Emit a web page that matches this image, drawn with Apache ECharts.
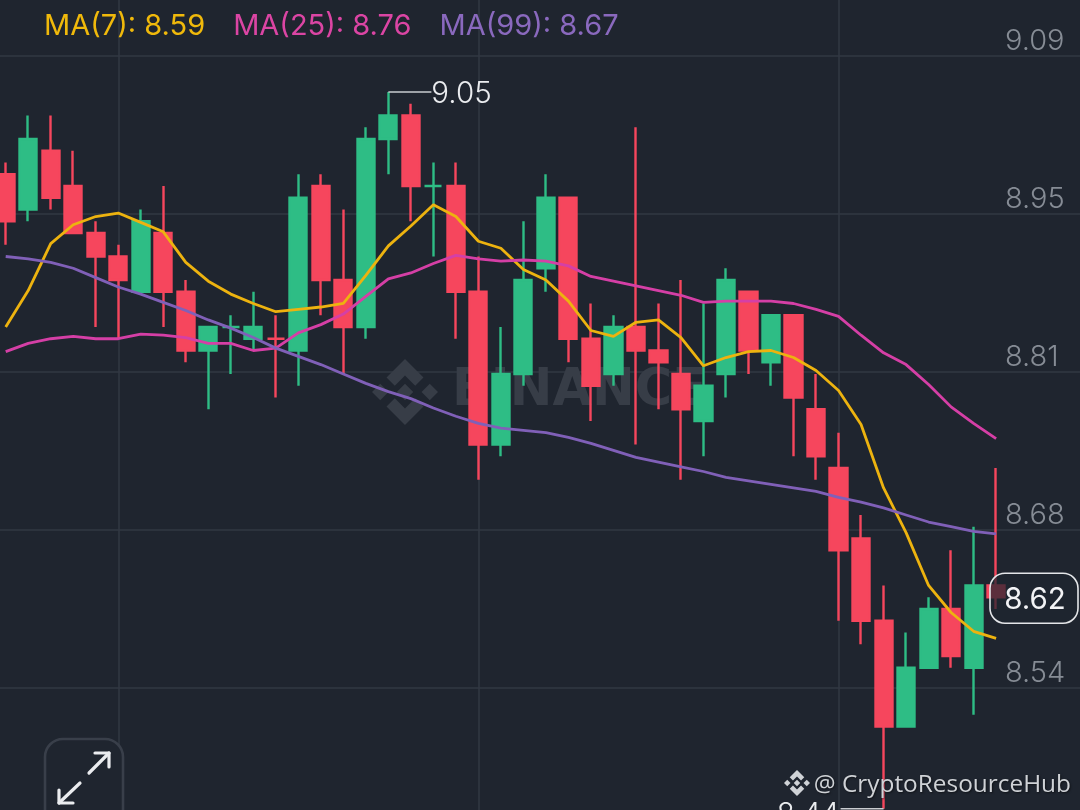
<!DOCTYPE html>
<html>
<head>
<meta charset="utf-8">
<style>html,body{margin:0;padding:0;background:#1f252f}#c{width:1080px;height:810px}</style>
<script src="https://cdn.jsdelivr.net/npm/echarts@6/dist/echarts.min.js"></script>
</head>
<body>
<div id="c"></div>
<script>
// [open, close, low, high]
const candles = [
[8.98,8.94,8.92,8.99],[8.95,9.01,8.94,9.03],[9.00,8.96,8.95,9.03],[8.97,8.93,8.93,9.00],[8.93,8.91,8.85,8.94],
[8.91,8.89,8.84,8.92],[8.88,8.94,8.88,8.95],[8.93,8.88,8.85,8.97],[8.88,8.83,8.82,8.89],[8.83,8.85,8.78,8.85],
[8.85,8.85,8.81,8.86],[8.84,8.85,8.83,8.88],[8.84,8.84,8.79,8.86],[8.83,8.96,8.80,8.98],[8.97,8.89,8.86,8.98],
[8.89,8.85,8.81,8.95],[8.85,9.01,8.84,9.02],[9.01,9.03,8.98,9.05],[9.03,8.97,8.94,9.04],[8.97,8.97,8.91,8.99],
[8.97,8.88,8.84,8.99],[8.88,8.75,8.72,8.91],[8.75,8.81,8.74,8.85],[8.81,8.89,8.80,8.94],[8.90,8.96,8.88,8.98],
[8.96,8.84,8.82,8.96],[8.84,8.80,8.77,8.87],[8.81,8.85,8.80,8.86],[8.85,8.83,8.75,9.02],[8.83,8.82,8.78,8.87],
[8.81,8.78,8.72,8.89],[8.77,8.80,8.74,8.87],[8.81,8.89,8.79,8.90],[8.88,8.83,8.81,8.88],[8.82,8.86,8.80,8.86],
[8.86,8.79,8.74,8.86],[8.78,8.74,8.72,8.81],[8.73,8.66,8.60,8.76],[8.67,8.60,8.58,8.69],[8.60,8.51,8.44,8.63],
[8.51,8.56,8.51,8.59],[8.56,8.61,8.56,8.62],[8.61,8.57,8.56,8.66],[8.56,8.63,8.52,8.68],[8.63,8.62,8.61,8.73]
];
const ma7 = [8.850,8.881,8.921,8.937,8.944,8.947,8.939,8.931,8.905,8.889,8.878,8.870,8.863,8.865,8.867,8.870,8.894,8.919,8.936,8.954,8.944,8.923,8.917,8.899,8.890,8.872,8.847,8.842,8.854,8.856,8.841,8.817,8.824,8.829,8.830,8.824,8.813,8.796,8.767,8.713,8.675,8.630,8.607,8.591,8.585];
const ma25 = [8.829,8.836,8.840,8.842,8.840,8.840,8.844,8.843,8.841,8.836,8.836,8.830,8.832,8.845,8.852,8.861,8.876,8.891,8.896,8.904,8.911,8.908,8.906,8.907,8.906,8.902,8.893,8.889,8.885,8.881,8.877,8.871,8.872,8.872,8.872,8.870,8.865,8.859,8.843,8.828,8.818,8.801,8.782,8.768,8.755];
const ma99 = [8.910,8.908,8.905,8.900,8.892,8.884,8.878,8.871,8.864,8.856,8.849,8.841,8.832,8.825,8.818,8.810,8.802,8.795,8.789,8.781,8.774,8.768,8.764,8.762,8.760,8.756,8.751,8.745,8.739,8.735,8.731,8.727,8.722,8.719,8.716,8.713,8.710,8.705,8.701,8.696,8.690,8.684,8.680,8.676,8.674];
const categories = candles.map((_, i) => String(i)).concat(['', ' ', '  ', '   ']);
const tickValues = [9.0806, 8.9462, 8.8117, 8.6772, 8.5428];
const tickLabels = ['9.09', '8.95', '8.81', '8.68', '8.54'];
const maLegend = {'MA(7)': '8.59', 'MA(25)': '8.76', 'MA(99)': '8.67'};
const highLabel = '9.05', lowLabel = '8.44', lastLabel = '8.62';
const highIndex = 17, lowIndex = 39, lastIndex = 44;
const highPrice = 9.05, lowPrice = 8.44, lastPrice = 8.62;

const BG = '#1f252f', GRID = '#323843', UP = '#2EBD85', DOWN = '#F6465D';
const FONT = 'Inter';
const chart = echarts.init(document.getElementById('c'), null, {renderer: 'canvas', width: 1080, height: 810});

function line(name, data, color) {
  return {name, type: 'line', data, showSymbol: false, symbol: 'none', smooth: false, silent: true,
    lineStyle: {color, width: 2.8}, itemStyle: {color}, z: 5, animation: false};
}
chart.setOption({
  backgroundColor: BG,
  animation: false,
  grid: {left: -5.55, right: -17.4, top: 0, bottom: 0, containLabel: false, outerBoundsMode: 'none'},
  legend: {
    left: 39, top: 12, icon: 'none', itemWidth: 0, itemHeight: 0, itemGap: 23, padding: 0,
    selectedMode: false,
    formatter: n => n + ': ' + maLegend[n],
    data: [
      {name: 'MA(7)', textStyle: {color: '#F0B90B'}},
      {name: 'MA(25)', textStyle: {color: '#DB45A4'}},
      {name: 'MA(99)', textStyle: {color: '#8A69BE'}}
    ],
    textStyle: {fontFamily: FONT, fontSize: 29, padding: 0}
  },
  xAxis: {
    type: 'category', data: categories, boundaryGap: true,
    axisLine: {show: false}, axisTick: {show: false}, axisLabel: {show: false},
    splitLine: {show: true, alignWithLabel: true, interval: i => i % 16 === 5, lineStyle: {color: GRID, width: 1.5}}
  },
  yAxis: {
    type: 'value', position: 'right', min: 8.4389, max: 9.1283, scale: true,
    axisLine: {show: false},
    axisTick: {show: false, customValues: tickValues},
    splitLine: {show: true, lineStyle: {color: GRID, width: 1.5}},
    axisLabel: {
      show: true, inside: true, margin: 92.4, customValues: tickValues,
      formatter: v => tickLabels[tickValues.indexOf(v)],
      color: '#868C95', fontFamily: FONT, fontSize: 29, fontWeight: 300,
      verticalAlign: 'bottom', align: 'left', padding: [0, 0, 0, 0], hideOverlap: false
    }
  },
  series: [
    {name: 'Price', type: 'candlestick', data: candles.map(c => c), barWidth: 17.6, z: 3, silent: true,
      itemStyle: {color: UP, color0: DOWN, borderColor: UP, borderColor0: DOWN, borderWidth: 2.4}},
    line('MA(7)', ma7, '#EDB30F'),
    line('MA(25)', ma25, '#D53FA6'),
    line('MA(99)', ma99, '#8060B8')
  ]
});

function logo(cx, cy, r, color, z) {
  const shapes = [
    [[0,-.25],[.25,0],[0,.25],[-.25,0]],
    [[-.75,-.25],[-.5,0],[-.75,.25],[-1,0]],
    [[.75,-.25],[1,0],[.75,.25],[.5,0]],
    [[0,-1],[.56,-.44],[.31,-.19],[0,-.5],[-.31,-.19],[-.56,-.44]],
    [[0,1],[.56,.44],[.31,.19],[0,.5],[-.31,.19],[-.56,.44]]
  ];
  return shapes.map(s => ({type: 'polygon', z, silent: true,
    shape: {points: s.map(p => [cx + p[0] * r, cy + p[1] * r])}, style: {fill: color}}));
}
const hp = chart.convertToPixel({seriesIndex: 0}, [highIndex, highPrice]);
const lp = chart.convertToPixel({seriesIndex: 0}, [lowIndex, lowPrice]);
const cp = chart.convertToPixel({seriesIndex: 0}, [lastIndex, lastPrice]);
const arrow = (pts) => ({type: 'polyline', z: 21, silent: true, shape: {points: pts},
  style: {stroke: '#EAECEF', fill: null, lineWidth: 3.2, lineCap: 'round', lineJoin: 'round'}});
chart.setOption({graphic: {elements: [
  ...logo(405, 392, 33, '#373d47', 1),
  {type: 'text', z: 1, silent: true, x: 452, y: 392,
    style: {text: 'BINANCE', fill: '#373d47', font: '700 51px "DejaVu Sans"', verticalAlign: 'middle', align: 'left'}},
  // high label
  {type: 'line', z: 10, silent: true, shape: {x1: hp[0], y1: hp[1], x2: hp[0] + 43, y2: hp[1]}, style: {stroke: '#C9CCD0', lineWidth: 1.6}},
  {type: 'text', z: 10, silent: true, x: hp[0] + 43, y: hp[1] + 2,
    style: {text: highLabel, fill: '#EAECEF', font: '300 29.5px ' + FONT, verticalAlign: 'middle', align: 'left'}},
  // low label
  {type: 'line', z: 10, silent: true, shape: {x1: lp[0], y1: lp[1], x2: lp[0] - 43, y2: lp[1]}, style: {stroke: '#C9CCD0', lineWidth: 1.6}},
  {type: 'text', z: 10, silent: true, x: lp[0] - 44, y: lp[1] + 6,
    style: {text: lowLabel, fill: '#EAECEF', font: '300 29.5px ' + FONT, verticalAlign: 'middle', align: 'right'}},
  // last price tag
  {type: 'rect', z: 12, silent: true, shape: {x: 990, y: cp[1] - 24, width: 88, height: 50, r: 15},
    style: {fill: 'rgba(31,37,47,0.72)', stroke: '#E4E6E9', lineWidth: 1.6}},
  {type: 'text', z: 13, silent: true, x: 1035, y: cp[1] + 3,
    style: {text: lastLabel, fill: '#F2F3F5', font: '400 29.5px ' + FONT, verticalAlign: 'middle', align: 'center'}},
  // expand button
  {type: 'rect', z: 20, silent: true, shape: {x: 45, y: 739, width: 78, height: 100, r: 18},
    style: {fill: BG, stroke: '#393F4A', lineWidth: 2.6}},
  arrow([[89, 773], [109, 753]]), arrow([[95, 753], [109, 753], [109, 767]]),
  arrow([[80, 783], [59, 803]]), arrow([[59, 790], [59, 803], [73, 803]]),
  // credit
  ...logo(797, 783, 13, '#CFD2D6', 30),
  {type: 'text', z: 30, silent: true, x: 1071, y: 785,
    style: {text: '@ CryptoResourceHub', fill: '#CFD2D6', font: '400 24.4px "Open Sans"', verticalAlign: 'middle', align: 'right',
      textShadowColor: 'rgba(0,0,0,.5)', textShadowBlur: 2, textShadowOffsetX: 1, textShadowOffsetY: 1}}
]}});
</script>
</body>
</html>
